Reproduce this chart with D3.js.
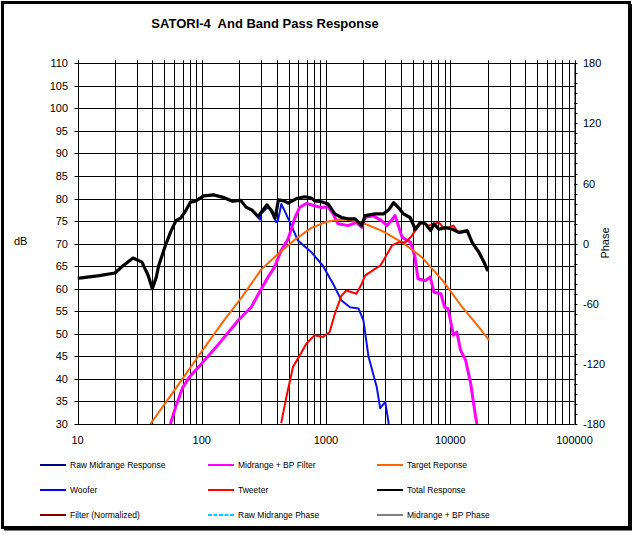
<!DOCTYPE html>
<html><head><meta charset="utf-8">
<script src="https://cdn.jsdelivr.net/npm/d3@7"></script>
<style>
html,body{margin:0;padding:0;background:#fff;}
svg{display:block;font-family:"Liberation Sans",Arial,sans-serif;}
</style></head>
<body><svg id="c" width="634" height="535"></svg>
<script>
// ---- data ----
const title = "SATORI-4  And Band Pass Response";
const xTickLabels = [10, 100, 1000, 10000, 100000];
const dbTicks = [30,35,40,45,50,55,60,65,70,75,80,85,90,95,100,105,110];
const phaseTicks = [-180,-120,-60,0,60,120,180];

const rawMidFreq = [85,104,125,151,177,206,227,250,273,294,300,343,373,397,410,437,470,526,594,712,763,944,1140,1333,1560,1830,2000,2200,2560,2730,3000,3200];
const rawMidDb   = [79.2,80.7,80.9,80.3,79.4,79.6,78.1,77.4,76.6,75.3,76.6,78.2,76.5,74.8,75.0,78.8,77.0,74.0,70.7,68.8,68.1,65.1,61.1,57.4,55.9,55.6,53.0,44.9,38.2,33.5,34.9,30.0];

const midBpFreq = [56,62,70,80,97,130,169,197,250,291,342,385,436,495,558,612,695,812,920,1040,1140,1250,1510,1760,1940,2060,2400,2800,3100,3600,4100,4800,5200,5500,6300,6900,7400,8400,9000,9600,10600,11300,12100,13300,14600,16000,16400];
const midBpDb   = [30,34,38,40.5,43,47,50.8,53,55.9,59.2,62.6,64.8,68.5,71.0,75.5,78.0,78.9,78.4,78.0,78.2,76.6,74.4,74.0,74.7,73.6,75.8,76.2,75.1,74.0,76.2,71.4,70.3,67.0,62.2,61.8,62.6,59.2,58.9,55.9,55.6,49.7,50.4,46.4,44.1,39.0,31.6,30];

const targetFreq = [38.6,60,100,151,206,300,410,558,763,1000,1250,1500,1940,2800,4100,5900,8700,12500,17000,20500];
const targetDb   = [30,37.4,46.1,53.0,57.8,64.2,67.7,70.8,73.5,74.8,75.3,75.3,74.7,72.9,70.3,67.0,61.8,55.9,51.5,48.6];

const tweeterFreq = [436,480,543,594,695,810,944,1070,1180,1333,1460,1760,1940,2060,2480,2730,3000,3400,3830,4350,4800,5230,5900,6700,8100,9000,10600,11700,13700,15000,17000,18700,20000];
const tweeterDb   = [30.2,36.0,42.7,44.5,47.8,49.7,49.3,50.4,54.5,58.5,59.6,58.9,61.1,62.9,64.4,65.1,67.0,69.6,70.3,70.3,71.4,72.9,74.7,74.0,74.7,73.2,74.0,72.3,72.7,70.1,67.9,65.7,63.8];

const totalFreq = [10,15,20,23,28,33,37,40,43,45,51,56,62,68,75,81,89,104,125,151,177,206,227,253,284,303,335,365,389,414,460,495,579,673,763,812,920,1040,1178,1333,1510,1714,1883,1940,2060,2480,2900,3200,3500,3830,4200,4750,5230,5750,6300,6950,7400,8100,9200,10400,11700,13700,15000,17000,18700,20000];
const totalDb   = [62.3,62.9,63.5,65.0,66.8,65.9,63.0,60.0,62.5,65.1,69.6,72.5,75.1,75.7,77.5,79.2,79.4,80.6,80.8,80.2,79.4,79.6,78.1,77.5,76.0,77.1,78.6,77.3,75.6,79.7,79.5,79.0,80.0,80.4,80.1,79.5,79.3,78.8,76.6,75.8,75.5,75.5,74.4,74.0,76.2,76.6,76.6,77.5,79.1,78.0,76.6,75.8,73.2,74.7,74.4,72.9,74.4,73.2,73.6,73.2,72.5,72.9,70.3,68.1,65.9,64.0];

const legendNames = ["Raw Midrange Response","Midrange + BP Filter","Target Reponse","Woofer","Tweeter","Total Response","Filter (Normalized)","Raw Midrange Phase","Midrange + BP Phase"];
const legendColors = ["#000080","#ff00ff","#ff6600","#0000ff","#ff0000","#000000","#800000","#00ccff","#808080"];

// ---- layout ----
const svg = d3.select("#c");
const L = 77.5, R = 574.5, T = 63.3, B = 424;
const x = d3.scaleLog().domain([10,100000]).range([L,R]);
const y = d3.scaleLinear().domain([30,110]).range([B,T]);
const yP = d3.scaleLinear().domain([-180,180]).range([B,T]);

// frame
svg.append("rect").attr("x",2.5).attr("y",2.5).attr("width",627).attr("height",525)
  .attr("fill","#fff").attr("stroke","#000").attr("stroke-width",3);
svg.append("line").attr("x1",631).attr("x2",631).attr("y1",4).attr("y2",530).attr("stroke","#000").attr("stroke-width",2);
svg.append("line").attr("x1",4).attr("x2",632).attr("y1",529.5).attr("y2",529.5).attr("stroke","#000").attr("stroke-width",2);

// title
svg.append("text").attr("x",265).attr("y",28).attr("text-anchor","middle")
  .attr("font-size",13).attr("font-weight","bold").style("white-space","pre").text(title);

// grid: vertical
const vLines = [];
for (let d = 10; d < 100000; d *= 10) for (let k = 1; k <= 9; k++) vLines.push(d*k);
vLines.push(100000);
svg.append("g").selectAll("line").data(vLines).join("line")
  .attr("x1",d=>Math.round(x(d))+0.5).attr("x2",d=>Math.round(x(d))+0.5)
  .attr("y1",T-3).attr("y2",B).attr("stroke","#000").attr("stroke-width",1);
// horizontal
svg.append("g").selectAll("line").data(dbTicks).join("line")
  .attr("x1",L-3).attr("x2",R).attr("y1",d=>Math.round(y(d))+0.5).attr("y2",d=>Math.round(y(d))+0.5)
  .attr("stroke","#000").attr("stroke-width",1);

// left axis labels
svg.append("g").selectAll("text").data(dbTicks).join("text")
  .attr("x",68).attr("y",d=>y(d)+4).attr("text-anchor","end").attr("font-size",11).text(d=>d);
svg.append("text").attr("x",14).attr("y",245).attr("font-size",11).text("dB");

// right phase axis
const gR = svg.append("g");
gR.append("line").attr("x1",R+0.5).attr("x2",R+0.5).attr("y1",T).attr("y2",B).attr("stroke","#000");
const minor = d3.range(-180,181,10);
gR.selectAll("line.t").data(minor).join("line").attr("class","t")
  .attr("x1",R).attr("x2",R+3).attr("y1",d=>Math.round(yP(d))+0.5).attr("y2",d=>Math.round(yP(d))+0.5)
  .attr("stroke","#000");
gR.selectAll("text").data(phaseTicks).join("text")
  .attr("x",583).attr("y",d=>yP(d)+4).attr("font-size",11).text(d=>d);
svg.append("text").attr("transform","translate(609,243) rotate(-90)").attr("text-anchor","middle")
  .attr("font-size",11).text("Phase");

// x labels
svg.append("g").selectAll("text").data(xTickLabels).join("text")
  .attr("x",d=>x(d)).attr("y",444).attr("text-anchor","middle").attr("font-size",11).text(d=>d);

// curves
svg.append("defs").append("clipPath").attr("id","clip").append("rect")
  .attr("x",L).attr("y",T).attr("width",R-L).attr("height",B-T);
const line = d3.line().x(d=>x(d[0])).y(d=>y(d[1]));
const gC = svg.append("g").attr("clip-path","url(#clip)");
function series(fr, db, color, w){
  gC.append("path").datum(d3.zip(fr,db)).attr("d",line).attr("fill","none")
    .attr("stroke",color).attr("stroke-width",w).attr("stroke-linejoin","round");
}
series(rawMidFreq, rawMidDb, "#0a14e6", 2);
series(midBpFreq, midBpDb, "#ff00ff", 3);
series(targetFreq, targetDb, "#ff6600", 2);
series(tweeterFreq, tweeterDb, "#ff0000", 2);
series(totalFreq, totalDb, "#000000", 3.2);

// legend
const colX = [40, 208, 377];
const rowY = [465, 490, 515];
const gL = svg.append("g");
legendNames.forEach((n,i)=>{
  const cx = colX[i%3], cy = rowY[Math.floor(i/3)];
  gL.append("line").attr("x1",cx).attr("x2",cx+26).attr("y1",cy).attr("y2",cy)
    .attr("stroke",legendColors[i]).attr("stroke-width",2)
    .attr("stroke-dasharray", i===7 ? "4,1.5" : null);
  gL.append("text").attr("x",cx+30).attr("y",cy+3).attr("font-size",8.5).text(n);
});
</script></body></html>
